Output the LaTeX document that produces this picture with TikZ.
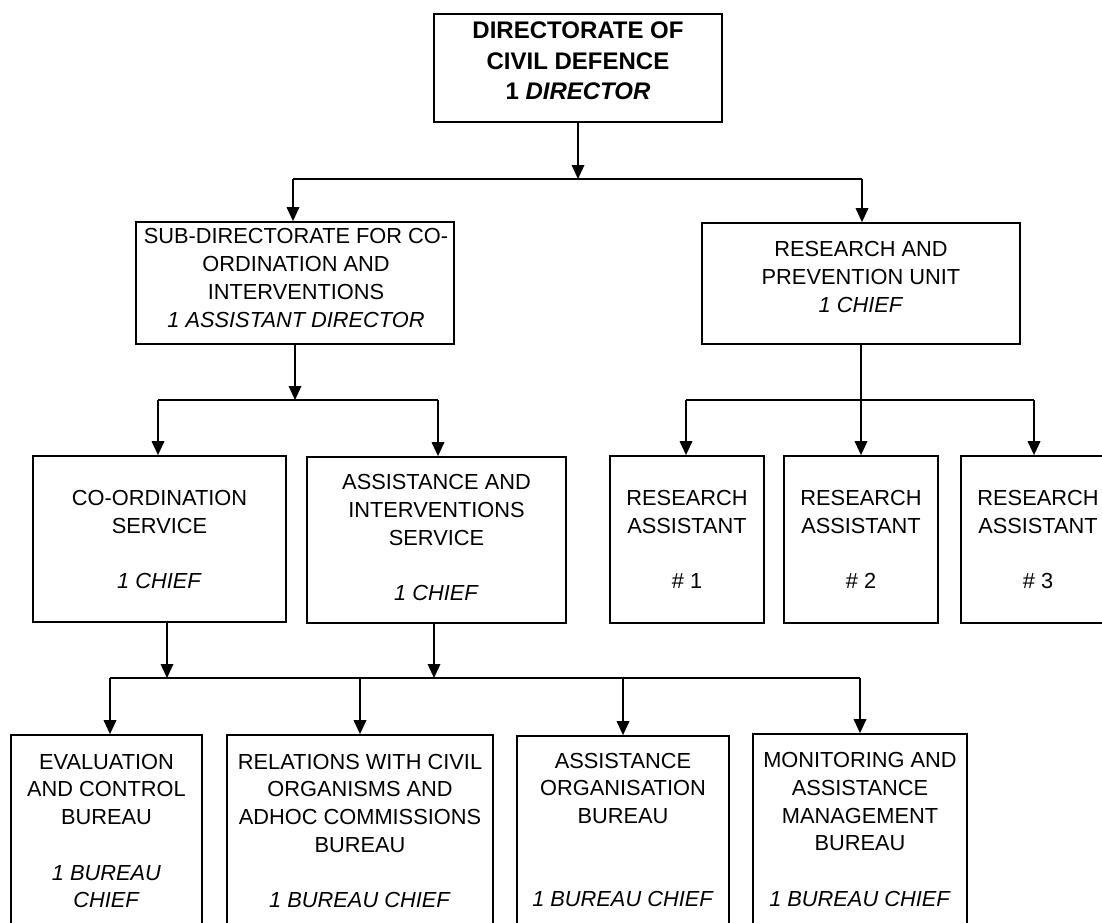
\documentclass[tikz,border=0pt]{standalone}
\usepackage{fontspec}
\setmainfont{Liberation Sans}
\usetikzlibrary{arrows.meta}
\begin{document}
\begin{tikzpicture}[x=1pt,y=-1pt,
  box/.style={draw, line width=1.7pt, inner sep=0pt},
  txt/.style={align=center, inner sep=0pt, font=\fontsize{21.8}{27.7}\selectfont},
  toptxt/.style={align=center, inner sep=0pt, font=\fontsize{24}{30.5}\selectfont\bfseries},
  conn/.style={line width=1.8pt},
  arr/.style={conn, -{Triangle[length=14pt,width=12.5pt]}}]
\useasboundingbox (0,0) rectangle (1102,922);
\clip (0,0) rectangle (1102,922);

% boxes
\node[box, minimum width=288pt, minimum height=108pt] (top) at (578,68) {};
\node[box, minimum width=318pt, minimum height=122pt] (sub) at (295,283) {};
\node[box, minimum width=318pt, minimum height=121pt] (res) at (861,283.5) {};
\node[box, minimum width=253pt, minimum height=166pt] (coord) at (159.5,539) {};
\node[box, minimum width=259pt, minimum height=166pt] (assist) at (436.5,540) {};
\node[box, minimum width=154pt, minimum height=167pt] (ra1) at (687,539.5) {};
\node[box, minimum width=154pt, minimum height=167pt] (ra2) at (861,539.5) {};
\node[box, minimum width=154pt, minimum height=167pt] (ra3) at (1038,539.5) {};
\node[box, minimum width=191pt, minimum height=193pt] (eval) at (106.5,831.5) {};
\node[box, minimum width=266pt, minimum height=193pt] (rel) at (360,831.5) {};
\node[box, minimum width=212pt, minimum height=192pt] (aorg) at (623,832) {};
\node[box, minimum width=214pt, minimum height=194pt] (mon) at (860,831) {};

% texts
\node[toptxt] (topT) at (578,61) {DIRECTORATE OF\\CIVIL DEFENCE\\1 \textit{DIRECTOR}};
\node[txt] (subT) at (296,278) {SUB-DIRECTORATE FOR CO-\\ORDINATION AND\\INTERVENTIONS\\\textit{1 ASSISTANT DIRECTOR}};
\node[txt] (resT) at (861,277) {RESEARCH AND\\PREVENTION UNIT\\\textit{1 CHIEF}};
\node[txt] (coordT) at (159.5,539.5) {CO-ORDINATION\\SERVICE\\[27.7pt]\textit{1 CHIEF}};
\node[txt] (assistT) at (436.5,537.5) {ASSISTANCE AND\\INTERVENTIONS\\SERVICE\\[27.7pt]\textit{1 CHIEF}};
\node[txt] (ra1T) at (687,539.7) {RESEARCH\\ASSISTANT\\[27.7pt]\# 1};
\node[txt] (ra2T) at (861,539.7) {RESEARCH\\ASSISTANT\\[27.7pt]\# 2};
\node[txt] (ra3T) at (1038,539.7) {RESEARCH\\ASSISTANT\\[27.7pt]\# 3};
\node[txt] (evalT) at (106.5,831) {EVALUATION\\AND CONTROL\\BUREAU\\[27.7pt]\textit{1 BUREAU}\\\textit{CHIEF}};
\node[txt] (relT) at (360,831) {RELATIONS WITH CIVIL\\ORGANISMS AND\\ADHOC COMMISSIONS\\BUREAU\\[27.7pt]\textit{1 BUREAU CHIEF}};
\node[txt] (aorgT) at (623,830) {ASSISTANCE\\ORGANISATION\\BUREAU\\[55.4pt]\textit{1 BUREAU CHIEF}};
\node[txt] (monT) at (860,829.6) {MONITORING AND\\ASSISTANCE\\MANAGEMENT\\BUREAU\\[27.7pt]\textit{1 BUREAU CHIEF}};

% junction points
\coordinate (j1) at (578,179);
\coordinate (j1l) at (293,179);
\coordinate (j1r) at (862,179);
\coordinate (j2l) at (158,400);
\coordinate (j2r) at (438,400);
\coordinate (j3l) at (686,400);
\coordinate (j3r) at (1034,400);
\coordinate (c1) at (167,678);
\coordinate (c2) at (434,678);
\coordinate (j4l) at (110,678);
\coordinate (j4r) at (860,678);

% level 1
\draw[arr] (top.south) -- (j1);
\draw[conn] (j1l) -- (j1r);
\draw[arr] (j1l) -- (j1l |- sub.north);
\draw[arr] (j1r) -- (j1r |- res.north);

% sub-directorate branch
\draw[arr] (sub.south) -- (sub.south |- j2l);
\draw[conn] (j2l) -- (j2r);
\draw[arr] (j2l) -- (j2l |- coord.north);
\draw[arr] (j2r) -- (j2r |- assist.north);

% research branch
\draw[conn] (res.south) -- (res.south |- j3l);
\draw[conn] (j3l) -- (j3r);
\draw[arr] (j3l) -- (j3l |- ra1.north);
\draw[arr] (res.south |- j3l) -- (ra2.north);
\draw[arr] (j3r) -- (j3r |- ra3.north);

% services to bureaus
\draw[arr] (c1 |- coord.south) -- (c1);
\draw[arr] (c2 |- assist.south) -- (c2);
\draw[conn] (j4l) -- (j4r);
\draw[arr] (j4l) -- (j4l |- eval.north);
\draw[arr] (rel.north |- j4l) -- (rel.north);
\draw[arr] (aorg.north |- j4l) -- (aorg.north);
\draw[arr] (j4r) -- (j4r |- mon.north);
\end{tikzpicture}
\end{document}
